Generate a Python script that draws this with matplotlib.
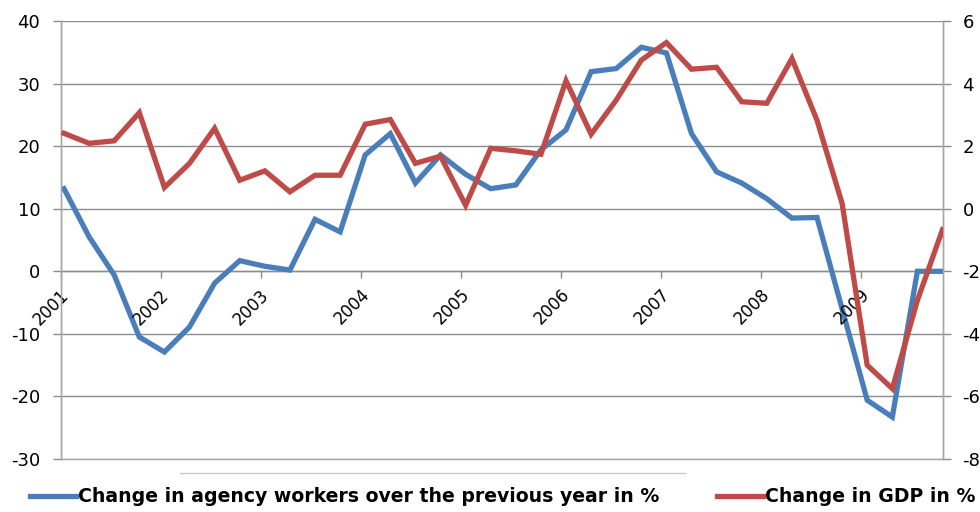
import numpy as np
import matplotlib.pyplot as plt
from matplotlib.lines import Line2D

plt.rcParams['font.family'] = ['DejaVu Sans']
plt.rcParams['axes.unicode_minus'] = False

years = [2001, 2002, 2003, 2004, 2005, 2006, 2007, 2008, 2009]

# quarterly values, 2001 Q1 .. 2009 Q4
agency = [13.2, 5.5, -0.6, -10.5, -12.9, -8.9, -1.9, 1.7, 0.8, 0.2,
          8.3, 6.3, 18.6, 22.0, 14.1, 18.6, 15.5, 13.2, 13.8, 19.4,
          22.6, 31.9, 32.4, 35.8, 34.9, 22.0, 15.9, 14.1, 11.6, 8.5,
          8.6, -6.0, -20.6, -23.3, 0.0, 0.0]
gdp = [2.41, 2.09, 2.17, 3.07, 0.68, 1.45, 2.57, 0.91, 1.21, 0.54,
       1.07, 1.07, 2.70, 2.85, 1.45, 1.68, 0.11, 1.93, 1.85, 1.74,
       4.09, 2.38, 3.47, 4.75, 5.31, 4.46, 4.52, 3.42, 3.37, 4.80,
       2.83, 0.17, -5.0, -5.75, -2.93, -0.67]

BLUE = '#4a7ebb'
RED = '#be4b48'
GRID = '#8c8c8c'

q = np.arange(len(agency))
# one year on the axis is a little under four quarter steps in the original
step = 3.984
x0 = -0.12

fig = plt.figure(figsize=(9.8, 5.12), dpi=100)
ax = fig.add_axes([61 / 980, 1 - 459 / 512, 882 / 980, 438 / 512])
ax2 = ax.twinx()

ax.plot(q, agency, color=BLUE, lw=3.8, solid_joinstyle='miter', zorder=3)
ax2.plot(q, gdp, color=RED, lw=3.8, solid_joinstyle='miter', zorder=3)

ax.set_xlim(x0, 35.02)
ax.set_ylim(-30, 40)
ax2.set_ylim(-8, 6)
ax.set_yticks(np.arange(-30, 41, 10))
ax2.set_yticks(np.arange(-8, 7, 2))

ax.yaxis.grid(True, color=GRID, lw=1.0)
ax.set_axisbelow(True)

for a in (ax, ax2):
    a.spines['top'].set_visible(False)
    a.spines['bottom'].set_visible(False)
    a.spines['left'].set_color('#a6a6a6')
    a.spines['right'].set_color('#a6a6a6')
    a.spines['left'].set_linewidth(1.0)
    a.spines['right'].set_linewidth(1.0)

ax.spines['bottom'].set_visible(True)
ax.spines['bottom'].set_position(('data', 0))
ax.spines['bottom'].set_color(GRID)
ax.spines['bottom'].set_linewidth(1.0)

ax.tick_params(axis='y', direction='out', length=6, width=1.0, color=GRID,
               labelsize=13, pad=9)
ax2.tick_params(axis='y', direction='out', length=6, width=1.0, color=GRID,
                labelsize=13, pad=8)
for lbl in ax2.get_yticklabels():
    lbl.set_ha('left')

ticks = [x0 + k * step for k in range(len(years))]
ax.set_xticks(ticks)
ax.set_xticklabels([])
ax.tick_params(axis='x', direction='out', length=5, width=1.0, color=GRID)
for t, yr in zip(ticks, years):
    ax.annotate(str(yr), xy=(t, 0), xycoords='data', xytext=(4, -15),
                textcoords='offset points', rotation=45, rotation_mode='anchor',
                ha='right', va='center', fontsize=12, zorder=4)

ax.plot([-0.12, 35.02], [-30, -30], color='#a6a6a6', lw=1.0, clip_on=False)

# thin separator above the legend
fig.add_artist(Line2D([180 / 980, 685 / 980], [1 - 473 / 512, 1 - 473 / 512],
                      color='#c8c8c8', lw=1))

handles = [Line2D([], [], color=BLUE, lw=3.8),
           Line2D([], [], color=RED, lw=3.8)]
labels = ['Change in agency workers over the previous year in %',
          'Change in GDP in %']
fig.legend(handles, labels, loc='center', bbox_to_anchor=(0.513, 1 - 497 / 512),
           ncol=2, frameon=False, handlelength=2.4, handletextpad=0.1,
           columnspacing=3.1, prop={'weight': 'bold', 'size': 13.6})

fig.savefig('out.png', dpi=100)
